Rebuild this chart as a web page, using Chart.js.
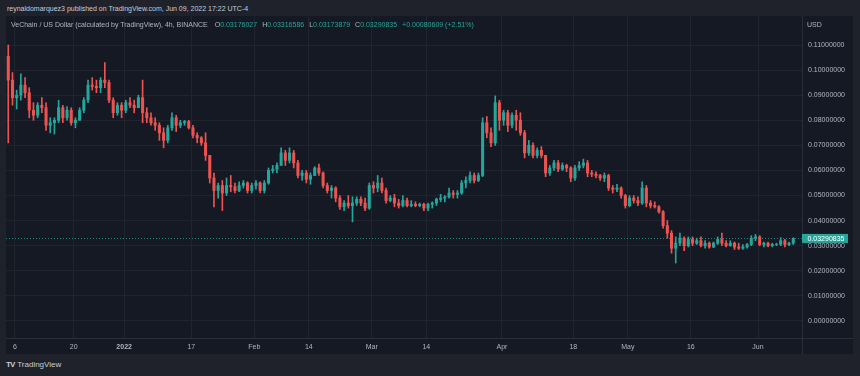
<!DOCTYPE html>
<html>
<head>
<meta charset="utf-8">
<script src="https://cdn.jsdelivr.net/npm/chart.js@4.4.1/dist/chart.umd.min.js"></script>
<style>
html,body{margin:0;padding:0;width:860px;height:376px;overflow:hidden;background:#1f222b;font-family:"Liberation Sans",Arial,sans-serif;}
#h1{position:absolute;left:7px;top:4px;font-size:7px;line-height:10px;color:#c9ccd4;white-space:nowrap;}
#wrap{position:absolute;left:6px;top:16px;width:847px;height:338px;background:#151924;}
#h2{position:absolute;left:5px;top:4px;font-size:7px;line-height:10px;color:#b2b5be;white-space:nowrap;z-index:2;}
#h2 span{color:#26a69a;}
#h2 i{font-style:normal;display:inline-block;width:5px;}
#usd{position:absolute;left:801px;top:4px;font-size:7px;line-height:10px;color:#b2b5be;z-index:2;}
#ft{position:absolute;left:6px;top:360px;font-size:8px;line-height:10px;color:#c9ccd4;white-space:nowrap;}
#ft b{font-weight:900;letter-spacing:-1px;margin-right:3px;}
</style>
</head>
<body>
<div id="h1">reynaldomarquez3 published on TradingView.com, Jun 09, 2022 17:22 UTC-4</div>
<div id="wrap">
  <canvas id="c"></canvas>
  <div id="h2">VeChain / US Dollar (calculated by TradingView), 4h, BINANCE<i></i> O<span>0.03176027</span><i></i>H<span>0.03316586</span><i></i>L<span>0.03173879</span><i></i>C<span>0.03290835</span><i></i><span>+0.00080609 (+2.51%)</span></div>
  <div id="usd">USD</div>
</div>
<div id="ft"><b>TV</b>TradingView</div>
<script>
// Daily candles, first day 2021-12-04, last day 2022-06-09 (VET/USD)
const open = [
.1055,.0960,.0890,.0900,.0940,.0910,.0840,.0820,.0860,.0850,.0780,.0790,.0800,.0850,.0810,.0840,.0790,.0800,.0840,.0880,
.0940,.0935,.0930,.0960,.0950,.0880,.0830,.0860,.0840,.0870,.0860,.0850,.0890,.0830,.0810,.0790,.0780,.0750,.0720,.0770,
.0810,.0780,.0790,.0795,.0770,.0740,.0730,.0710,.0660,.0570,.0520,.0540,.0510,.0540,.0535,.0520,.0540,.0550,.0520,.0540,
.0550,.0520,.0550,.0600,.0605,.0620,.0670,.0640,.0670,.0630,.0580,.0590,.0565,.0580,.0610,.0590,.0540,.0520,.0530,.0490,
.0455,.0470,.0460,.0470,.0485,.0470,.0450,.0540,.0530,.0550,.0520,.0480,.0490,.0470,.0460,.0480,.0460,.0465,.0460,.0465,
.0450,.0465,.0470,.0485,.0490,.0495,.0510,.0505,.0510,.0550,.0560,.0580,.0560,.0580,.0790,.0750,.0710,.0870,.0800,.0830,
.0780,.0820,.0800,.0750,.0670,.0700,.0660,.0680,.0660,.0590,.0610,.0630,.0605,.0620,.0610,.0570,.0610,.0620,.0630,.0590,
.0585,.0580,.0570,.0580,.0530,.0525,.0530,.0500,.0460,.0490,.0480,.0470,.0530,.0470,.0460,.0455,.0435,.0380,.0350,.0290,
.0310,.0330,.0300,.0325,.0310,.0320,.0300,.0310,.0295,.0310,.0325,.0310,.0300,.0310,.0295,.0290,.0295,.0305,.0330,.0335,
.0305,.0310,.0300,.0305,.0306,.0320,.0305,.0310
];
const high = [
.1100,.0990,.0920,.0985,.0970,.0930,.0870,.0870,.0890,.0870,.0810,.0810,.0880,.0860,.0855,.0850,.0810,.0850,.0890,.0960,
.0970,.0960,.0970,.1030,.0960,.0890,.0870,.0870,.0880,.0890,.0880,.0900,.0960,.0850,.0830,.0810,.0790,.0770,.0780,.0830,
.0820,.0800,.0800,.0800,.0780,.0750,.0735,.0750,.0660,.0590,.0550,.0560,.0570,.0580,.0550,.0555,.0560,.0555,.0550,.0560,
.0555,.0560,.0610,.0620,.0630,.0690,.0680,.0690,.0680,.0640,.0600,.0600,.0590,.0615,.0625,.0595,.0550,.0540,.0535,.0500,
.0480,.0500,.0495,.0495,.0495,.0490,.0550,.0555,.0580,.0570,.0530,.0500,.0505,.0485,.0500,.0490,.0480,.0475,.0470,.0470,
.0470,.0475,.0490,.0505,.0500,.0530,.0520,.0520,.0560,.0575,.0595,.0590,.0590,.0810,.0815,.0770,.0897,.0880,.0840,.0840,
.0830,.0840,.0830,.0760,.0720,.0710,.0690,.0695,.0660,.0620,.0640,.0640,.0630,.0625,.0615,.0620,.0635,.0645,.0640,.0600,
.0595,.0585,.0590,.0585,.0540,.0545,.0535,.0505,.0500,.0500,.0495,.0555,.0540,.0480,.0475,.0460,.0440,.0400,.0360,.0335,
.0350,.0335,.0335,.0335,.0330,.0335,.0320,.0315,.0315,.0335,.0350,.0320,.0320,.0315,.0310,.0305,.0310,.0340,.0345,.0340,
.0315,.0315,.0310,.0310,.0332,.0325,.0315,.03316586
];
const low = [
.0710,.0860,.0845,.0880,.0890,.0810,.0800,.0810,.0830,.0760,.0750,.0745,.0790,.0790,.0800,.0780,.0770,.0800,.0830,.0870,
.0920,.0910,.0910,.0930,.0870,.0810,.0820,.0810,.0830,.0850,.0830,.0850,.0790,.0790,.0780,.0760,.0720,.0690,.0710,.0760,
.0755,.0770,.0780,.0765,.0730,.0710,.0700,.0640,.0550,.0455,.0490,.0440,.0500,.0515,.0510,.0515,.0530,.0510,.0510,.0525,
.0510,.0510,.0545,.0590,.0590,.0620,.0620,.0630,.0610,.0570,.0560,.0550,.0545,.0580,.0580,.0530,.0510,.0490,.0475,.0445,
.0440,.0450,.0395,.0460,.0460,.0440,.0445,.0510,.0515,.0510,.0470,.0475,.0455,.0450,.0455,.0455,.0455,.0455,.0455,.0440,
.0440,.0450,.0460,.0475,.0475,.0490,.0490,.0490,.0505,.0530,.0550,.0550,.0555,.0575,.0730,.0695,.0700,.0760,.0780,.0755,
.0770,.0760,.0740,.0650,.0660,.0650,.0650,.0650,.0575,.0580,.0600,.0595,.0600,.0595,.0555,.0560,.0600,.0610,.0575,.0575,
.0570,.0560,.0555,.0520,.0510,.0515,.0490,.0450,.0455,.0470,.0460,.0465,.0455,.0450,.0450,.0430,.0370,.0330,.0270,.0231,
.0300,.0280,.0295,.0300,.0305,.0295,.0290,.0290,.0292,.0305,.0300,.0295,.0298,.0285,.0285,.0285,.0290,.0300,.0320,.0300,
.0295,.0295,.0295,.0300,.0300,.0295,.0300,.0305
];
const close = [
.0960,.0890,.0900,.0940,.0910,.0840,.0820,.0860,.0850,.0780,.0790,.0800,.0850,.0810,.0840,.0790,.0800,.0840,.0880,.0940,
.0935,.0930,.0960,.0950,.0880,.0830,.0860,.0840,.0870,.0860,.0850,.0890,.0830,.0810,.0790,.0780,.0750,.0720,.0770,.0810,
.0780,.0790,.0795,.0770,.0740,.0730,.0710,.0660,.0570,.0520,.0540,.0510,.0540,.0535,.0520,.0540,.0550,.0520,.0540,.0550,
.0520,.0550,.0600,.0605,.0620,.0670,.0640,.0670,.0630,.0580,.0590,.0565,.0580,.0610,.0590,.0540,.0520,.0530,.0490,.0455,
.0470,.0460,.0470,.0485,.0470,.0450,.0540,.0530,.0550,.0520,.0480,.0490,.0470,.0460,.0480,.0460,.0465,.0460,.0465,.0450,
.0465,.0470,.0485,.0490,.0495,.0510,.0505,.0510,.0550,.0560,.0580,.0560,.0580,.0790,.0750,.0710,.0870,.0800,.0830,.0780,
.0820,.0800,.0750,.0670,.0700,.0660,.0680,.0660,.0590,.0610,.0630,.0605,.0620,.0610,.0570,.0610,.0620,.0630,.0590,.0585,
.0580,.0570,.0580,.0530,.0525,.0530,.0500,.0460,.0490,.0480,.0470,.0530,.0470,.0460,.0455,.0435,.0380,.0350,.0290,.0310,
.0330,.0300,.0325,.0310,.0320,.0300,.0310,.0295,.0310,.0325,.0310,.0300,.0310,.0295,.0290,.0295,.0305,.0330,.0335,.0305,
.0310,.0300,.0305,.0306,.0320,.0305,.0310,.03290835
];
// time axis: day index (0 = 2021-12-04) and label
const tickDays   = [2, 16, 28, 44, 59, 72, 87, 100, 118, 135, 148, 163, 179];
const tickLabels = ['6','20','2022','17','Feb','14','Mar','14','Apr','18','May','16','Jun'];
const priceTicks = [0,0.01,0.02,0.03,0.04,0.05,0.06,0.07,0.08,0.09,0.10,0.11];

const UP = '#26a69a', DOWN = '#ef5350';
const FONT = '"Liberation Sans", Arial, sans-serif';
const xs = close.map((_, i) => i + 0.4);
const cols = close.map((c, i) => c >= open[i] ? UP : DOWN);
const wicks = xs.map((x, i) => ({x, y: [low[i], high[i]]}));
const bodies = xs.map((x, i) => ({x, y: [open[i], close[i]]}));
const lastClose = close[close.length - 1];

const noPad = s => { s.paddingTop = 0; s.paddingBottom = 0; s.paddingLeft = 0; s.paddingRight = 0; };

const overlay = {
  id: 'overlay',
  beforeDatasetsDraw(chart) {
    const {ctx, chartArea: a, scales: {y}} = chart;
    const py = Math.round(y.getPixelForValue(lastClose)) + 0.5;
    ctx.save();
    ctx.strokeStyle = 'rgba(38,166,154,0.75)'; ctx.lineWidth = 1; ctx.setLineDash([1, 2]);
    ctx.beginPath(); ctx.moveTo(a.left, py); ctx.lineTo(a.right, py); ctx.stroke();
    ctx.restore();
  },
  afterDraw(chart) {
    const {ctx, chartArea: a, scales: {y}} = chart;
    const py = y.getPixelForValue(lastClose);
    ctx.save();
    ctx.strokeStyle = '#2a2e39'; ctx.lineWidth = 1;
    ctx.beginPath();
    ctx.moveTo(a.right + 0.5, 0); ctx.lineTo(a.right + 0.5, chart.height);
    ctx.moveTo(0, a.bottom + 0.5); ctx.lineTo(chart.width, a.bottom + 0.5);
    ctx.stroke();
    ctx.fillStyle = UP;
    ctx.fillRect(a.right, py - 4.5, 46, 9);
    ctx.fillStyle = '#ffffff';
    ctx.font = '7px ' + FONT;
    ctx.textBaseline = 'middle'; ctx.textAlign = 'left';
    ctx.fillText(lastClose.toFixed(8), a.right + 5.5, py + 0.5);
    ctx.restore();
  }
};

new Chart(document.getElementById('c'), {
  type: 'bar',
  data: {
    datasets: [
      {data: wicks, backgroundColor: cols, barThickness: 1, grouped: false, borderWidth: 0, order: 2},
      {data: bodies, backgroundColor: cols, barThickness: 2.4, grouped: false, borderWidth: 0, order: 1}
    ]
  },
  options: {
    responsive: true,
    maintainAspectRatio: false,
    animation: false,
    layout: {padding: 0},
    plugins: {legend: {display: false}, tooltip: {enabled: false}, title: {display: false}},
    scales: {
      x: {
        type: 'linear', offset: false,
        min: -0.14, max: 189.48,
        afterBuildTicks: s => { s.ticks = tickDays.map(v => ({value: v})); },
        afterFit: s => { s.height = 16; noPad(s); },
        grid: {color: '#20242f', drawTicks: false, offset: false},
        border: {display: false},
        ticks: {
          autoSkip: false, maxRotation: 0, padding: 5, color: '#b2b5be',
          font: ctx => ({family: FONT, size: 7, weight: (ctx.tick && ctx.tick.label === '2022') ? 'bold' : 'normal'}),
          callback: (v, i) => tickLabels[i]
        }
      },
      y: {
        position: 'right',
        min: -0.00678, max: 0.12156,
        afterBuildTicks: s => { s.ticks = priceTicks.map(v => ({value: v})); },
        afterFit: s => { s.width = 51; noPad(s); },
        grid: {color: '#20242f', drawTicks: false},
        border: {display: false},
        ticks: {
          padding: 6, color: '#b2b5be',
          font: {family: FONT, size: 7},
          callback: v => Number(v).toFixed(8)
        }
      }
    }
  },
  plugins: [overlay]
});
</script>
</body>
</html>
